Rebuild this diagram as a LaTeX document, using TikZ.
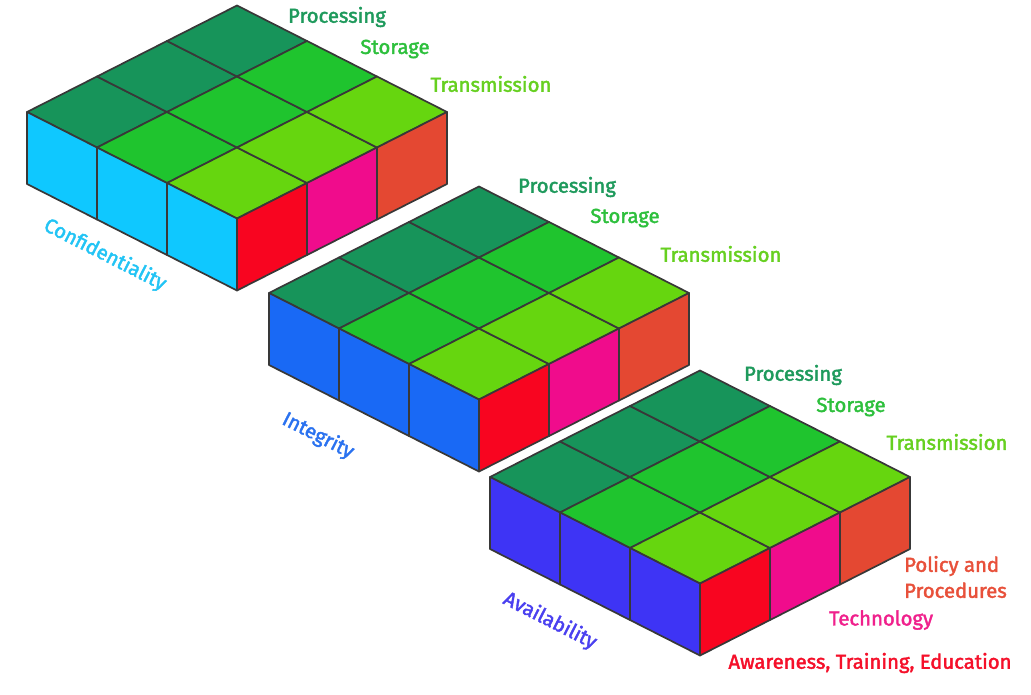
\documentclass[tikz,border=0pt]{standalone}
\usepackage{fontspec}
\setmainfont{Fira Sans}
\newfontfamily\labfont[FakeBold=2]{Fira Sans}
\definecolor{dkg}{HTML}{17945A}
\definecolor{mdg}{HTML}{1FC42E}
\definecolor{ylg}{HTML}{66D60F}
\definecolor{cyanf}{HTML}{0FC8FF}
\definecolor{bluef}{HTML}{1969F5}
\definecolor{violf}{HTML}{3E34F5}
\definecolor{redf}{HTML}{F80520}
\definecolor{magf}{HTML}{F00C8C}
\definecolor{orgf}{HTML}{E44832}
\definecolor{edgec}{HTML}{383838}
\definecolor{tdkg}{HTML}{1E9A5C}
\definecolor{tmdg}{HTML}{2DC03C}
\definecolor{tylg}{HTML}{66D020}
\definecolor{torg}{HTML}{E8503A}
\definecolor{tmag}{HTML}{F0208C}
\definecolor{tred}{HTML}{F5102A}
\definecolor{tcyan}{HTML}{22C4F5}
\definecolor{tblue}{HTML}{2A72F0}
\definecolor{tviol}{HTML}{4A40F0}
\tikzset{
  facecell/.style={draw=edgec, line width=1.7pt, line join=round},
  lab/.style={font=\labfont\fontsize{20.3}{23}\selectfont, inner sep=0pt},
}
\newcommand\drawslab[3]{%
  \begin{scope}[shift={(#1,#2)}]
    \foreach \i/\c in {0/dkg,1/mdg,2/ylg}{
      \foreach \j in {0,1,2}{
        \filldraw[facecell, fill=\c] (70*\i+70*\j, 35.5*\i-35.5*\j) -- ++(70,35.5) -- ++(70,-35.5) -- ++(-70,-35.5) -- cycle;
      }}
    \foreach \i in {0,1,2}{
      \filldraw[facecell, fill=#3] (70*\i, 35.5*\i) -- ++(70,35.5) -- ++(0,72) -- ++(-70,-35.5) -- cycle;
    }
    \foreach \j/\c in {0/redf,1/magf,2/orgf}{
      \filldraw[facecell, fill=\c] (210+70*\j, 106.5-35.5*\j) -- ++(70,-35.5) -- ++(0,72) -- ++(-70,35.5) -- cycle;
    }
  \end{scope}}
\begin{document}
\begin{tikzpicture}[x=1pt,y=-1pt]
  \useasboundingbox (0,0) rectangle (1031,695);
  \fill[white] (0,0) rectangle (1031,695);
  \drawslab{27}{112}{cyanf}
  \drawslab{269}{293}{bluef}
  \drawslab{490}{477}{violf}
  % slab 1 labels
  \node[lab, text=tdkg] (p1) at (337,17) {Processing};
  \node[lab, text=tmdg] (s1) at (395,49) {Storage};
  \node[lab, text=tylg] (t1) at (491,84) {Transmission};
  \node[lab, text=tcyan, rotate=-27] (c1) at (105,255) {Confidentiality};
  % slab 2 labels
  \node[lab, text=tdkg] (p2) at (567,187) {Processing};
  \node[lab, text=tmdg] (s2) at (625,218) {Storage};
  \node[lab, text=tylg] (t2) at (721,254) {Transmission};
  \node[lab, text=tblue, rotate=-27] (c2) at (318,436) {Integrity};
  % slab 3 labels
  \node[lab, text=tdkg] (p3) at (793,375) {Processing};
  \node[lab, text=tmdg] (s3) at (851,407) {Storage};
  \node[lab, text=tylg] (t3) at (947,442) {Transmission};
  \node[lab, text=tviol, rotate=-27] (c3) at (550,621) {Availability};
  \node[lab, text=torg, anchor=west, align=left] (pol) at (904,577) {Policy and\\[3pt]Procedures};
  \node[lab, text=tmag] (tec) at (881,620) {Technology};
  \node[lab, text=tred] (awa) at (870,663) {Awareness, Training, Education};
\end{tikzpicture}
\end{document}
